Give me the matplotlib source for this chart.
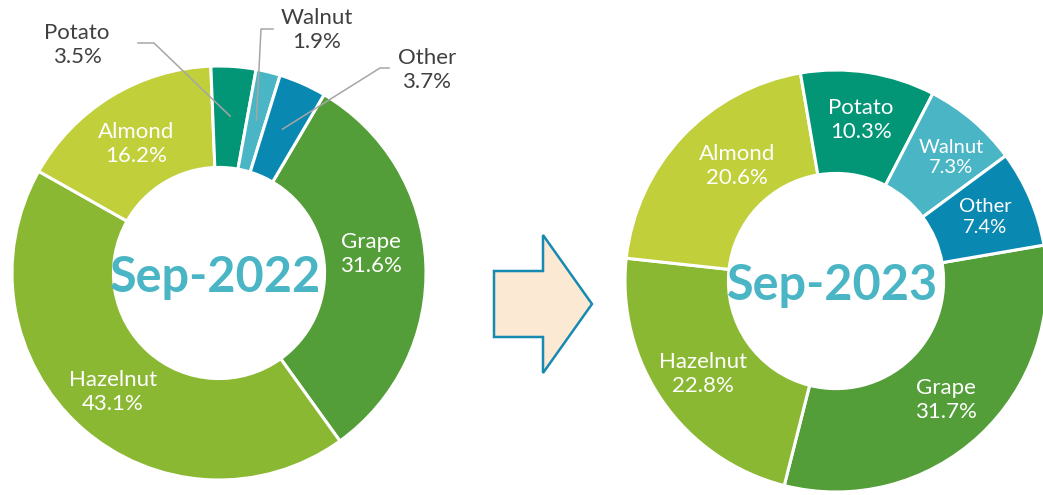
import numpy as np
import matplotlib
matplotlib.use('Agg')
import matplotlib.pyplot as plt
from matplotlib.patches import Polygon

plt.rcParams['font.family'] = ['Lato', 'DejaVu Sans']

### data
categories = ['Grape', 'Hazelnut', 'Almond', 'Potato', 'Walnut', 'Other']
share_2022 = [31.6, 43.1, 16.2, 3.5, 1.9, 3.7]
share_2023 = [31.7, 22.8, 20.6, 10.3, 7.3, 7.4]
titles = ['Sep-2022', 'Sep-2023']
colors = ['#549E39', '#8AB833', '#C0CF3A', '#029676', '#4AB5C4', '#0989B1']

W, H = 1043, 495

def px(x, y):
    # pixel coords (origin top-left) -> data coords
    return x, H - y

fig = plt.figure(figsize=(W / 100, H / 100), dpi=100)
ax = fig.add_axes([0, 0, 1, 1])

# layout of the two donuts: centre, radius, start angle, label tweaks
# nudge = (clockwise angle shift in degrees, radius fraction) for labels excel moved
donuts = [
    dict(values=share_2022, center=px(219, 273), radius=207, start=59.5, title=titles[0],
         nudge={'Grape': (-4.5, 0.74), 'Almond': (-1.5, 0.74)}, small=[]),
    dict(values=share_2023, center=px(836, 281), radius=211, start=9.8, title=titles[1],
         nudge={'Almond': (6, 0.72), 'Walnut': (2.5, 0.8)}, small=['Walnut', 'Other']),
]

# small slices on the first chart get outside labels with leader lines
outside_2022 = {
    'Potato': dict(text=px(77, 45), elbow=px(154, 43), end=px(138, 43)),
    'Walnut': dict(text=px(317, 30), elbow=px(261, 29), end=px(273, 29)),
    'Other': dict(text=px(427, 70), elbow=px(380, 68), end=px(389, 68)),
}

for i, d in enumerate(donuts):
    cx, cy = d['center']
    R = d['radius']
    wedges, _ = ax.pie(d['values'], colors=colors, startangle=d['start'], counterclock=False,
                       radius=R, center=(cx, cy),
                       wedgeprops=dict(width=R * 0.49, edgecolor='white', linewidth=2.2))
    for w, name, v in zip(wedges, categories, d['values']):
        mid_deg = (w.theta1 + w.theta2) / 2
        label = f'{name}\n{v:.1f}%'
        if i == 0 and name in outside_2022:
            o = outside_2022[name]
            mid = np.deg2rad(mid_deg)
            r = 0.76 * R
            wx, wy = cx + r * np.cos(mid), cy + r * np.sin(mid)
            ax.plot([wx, o['elbow'][0], o['end'][0]], [wy, o['elbow'][1], o['end'][1]],
                    color='#A6A6A6', lw=1.1, zorder=5)
            ax.text(o['text'][0], o['text'][1], label, ha='center', va='center',
                    fontsize=16, color='#404040', linespacing=1.25)
        else:
            shift, rf = d['nudge'].get(name, (0, 0.77))
            mid = np.deg2rad(mid_deg - shift)
            r = rf * R
            fs = 14.5 if name in d['small'] else 16
            ax.text(cx + r * np.cos(mid), cy + r * np.sin(mid), label, ha='center', va='center',
                    fontsize=fs, color='white', linespacing=1.25)
    ax.text(cx - 3, cy - 4, d['title'], ha='center', va='center', fontsize=35,
            fontweight='bold', color='#4AB5C4')

# arrow between the charts
arrow_pts = [px(494, 271), px(543, 271), px(543, 235), px(592, 304),
             px(543, 373), px(543, 337), px(494, 337)]
ax.add_patch(Polygon(arrow_pts, closed=True, facecolor='#FBE9D3', edgecolor='#168AB0', lw=1.8))

ax.set_xlim(0, W)
ax.set_ylim(0, H)
ax.set_aspect('auto')
ax.axis('off')

plt.savefig('out.png', dpi=100)
